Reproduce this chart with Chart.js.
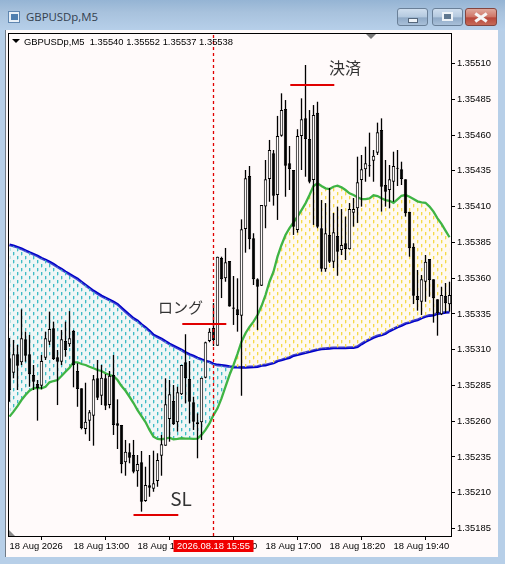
<!DOCTYPE html>
<html><head><meta charset="utf-8">
<style>
html,body{margin:0;padding:0;width:505px;height:564px;overflow:hidden;background:#b7cfe8;}
#titlebar{position:absolute;left:0;top:0;width:505px;height:31px;background:linear-gradient(#95b4d4,#a8c2dd 40%,#b7d0ea);}
#title{position:absolute;left:26px;top:9px;font:11.4px "Open Sans",sans-serif;color:#33404e;}
#icon{position:absolute;left:8px;top:11px;width:12px;height:12px;background:#e8f0f8;border:1px solid #5f86b0;box-sizing:border-box;}
#icon i{position:absolute;left:2px;top:2px;width:7px;height:6px;background:#4f7fb0;}
.btn{position:absolute;top:8px;height:16px;border:1px solid #6a8098;border-radius:3px;background:linear-gradient(#cfdeee,#b4c9df 50%,#8fa9c6 55%,#a9c0d9);box-sizing:content-box;}
#bmin{left:397px;width:29px}#bmax{left:432px;width:29px}
#bclose{left:465px;width:30px;background:linear-gradient(#dfa89c,#cf7566 50%,#b8473a 55%,#c66a58);border-color:#84453e;}
.g{position:absolute;background:#fff;border:1px solid #55677c;box-sizing:border-box;}
#gmin{left:10px;top:9px;width:10px;height:5px;background:#eef3f8}
#gmax{left:9px;top:3px;width:11px;height:9px;background:#5f7890;border-color:#eef3f8;border-width:2px}
.x{position:absolute;left:8px;top:6.5px;width:14px;height:3px;background:#f6f6f6;}
#panel{position:absolute;left:5px;top:30px;width:493px;height:527px;background:#fffafa;border-left:1px solid #6f7a86;box-sizing:border-box;}
canvas{position:absolute;left:0;top:0;}
#head{position:absolute;left:24px;top:36px;font:9.4px "Liberation Sans",sans-serif;color:#000;white-space:pre;}
#tri1{position:absolute;left:12px;top:39px;width:0;height:0;border-left:4px solid transparent;border-right:4px solid transparent;border-top:4px solid #000;}
#tri2{position:absolute;left:366px;top:34px;width:0;height:0;border-left:5px solid transparent;border-right:5px solid transparent;border-top:5px solid #777;}
</style></head><body>
<div id="titlebar"><div id="icon"><i></i></div><div id="title">GBPUSDp,M5</div>
<div class="btn" id="bmin"><div class="g" id="gmin"></div></div>
<div class="btn" id="bmax"><div class="g" id="gmax"></div></div>
<div class="btn" id="bclose"><div class="x" style="transform:rotate(35deg)"></div><div class="x" style="transform:rotate(-35deg)"></div></div>
</div>
<div id="panel"></div>
<canvas id="c" width="505" height="564"></canvas>
<div id="tri1"></div><div id="head">GBPUSDp,M5  1.35540 1.35552 1.35537 1.35538</div><div id="tri2"></div>
<script src="https://cdn.jsdelivr.net/npm/chart.js@4"></script>
<script>
const opens=[1.35304,1.352939,1.353068,1.353012,1.353173,1.353068,1.352923,1.35286,1.352848,1.353044,
1.353156,1.35325,1.353047,1.353016,1.353161,1.353138,1.353231,1.352951,1.35283,1.352546,
1.352604,1.352639,1.3529,1.352778,1.3529,1.352713,1.352923,1.352585,1.352574,1.352313,
1.352383,1.352364,1.35225,1.352313,1.352042,1.352152,1.352128,1.352182,1.352359,1.352429,
1.352616,1.352741,1.352592,1.352788,1.353012,1.352895,1.352732,1.352592,1.352592,1.352904,
1.353161,1.353252,1.353128,1.353741,1.353599,1.35372,1.353395,1.353382,1.353338,1.353944,
1.354314,1.353879,1.353592,1.353547,1.3541,1.354293,1.354473,1.354181,1.354596,1.354782,
1.354403,1.354356,1.353937,1.354594,1.354717,1.354573,1.354286,1.354757,1.353949,1.353662,
1.353902,1.353715,1.353895,1.353797,1.353844,1.353802,1.354058,1.354088,1.354286,1.354361,
1.35439,1.354421,1.354477,1.354636,1.354251,1.354216,1.354274,1.354372,1.354361,1.354291,
1.354064,1.35382,1.353475,1.353435,1.353575,1.353734,1.353592,1.353452,1.353347,1.353477,1.353417];
const highs=[1.353182,1.353168,1.353133,1.353382,1.353226,1.353203,1.352993,1.352888,1.353063,1.353226,
1.353366,1.353296,1.353098,1.353238,1.353296,1.35337,1.353238,1.353005,1.35283,1.352869,
1.352678,1.352923,1.353028,1.352993,1.35293,1.352951,1.353063,1.352753,1.352574,1.352469,
1.352446,1.352469,1.352364,1.352392,1.352282,1.352364,1.352394,1.352376,1.352504,1.3529,
1.352888,1.352853,1.352841,1.352993,1.353208,1.353021,1.352771,1.352655,1.352904,1.353156,
1.35325,1.353426,1.35375,1.35375,1.353811,1.35372,1.353615,1.353599,1.354011,1.354356,
1.354384,1.353914,1.353599,1.354111,1.354426,1.354566,1.354496,1.354734,1.354892,1.354845,
1.354524,1.354356,1.354641,1.354857,1.35509,1.354775,1.35481,1.354833,1.354146,1.354125,
1.35423,1.354055,1.3541,1.354083,1.35403,1.354125,1.35416,1.354449,1.354461,1.354519,
1.354617,1.354496,1.354687,1.354717,1.354426,1.354391,1.354484,1.354496,1.354414,1.354291,
1.354064,1.353844,1.353657,1.353622,1.353762,1.353734,1.353592,1.353452,1.35354,1.353566,1.353575];
const lows=[1.352736,1.3529,1.352818,1.352993,1.353016,1.352841,1.352818,1.352604,1.352823,1.353028,
1.353133,1.353028,1.352713,1.352993,1.353051,1.353121,1.352837,1.352701,1.352543,1.352509,
1.352462,1.352429,1.352748,1.352713,1.352678,1.35269,1.352504,1.352406,1.352236,1.352219,
1.352306,1.352236,1.352142,1.351968,1.352037,1.352072,1.352107,1.352142,1.352219,1.352429,
1.352457,1.352574,1.352527,1.352783,1.352725,1.352585,1.352539,1.352341,1.352469,1.3529,
1.353152,1.353126,1.353128,1.353461,1.353575,1.353401,1.353273,1.353226,1.352778,1.353778,
1.353802,1.353552,1.353238,1.353545,1.353949,1.354134,1.354107,1.354007,1.354589,1.354169,
1.354216,1.353902,1.353918,1.354356,1.354309,1.354263,1.353972,1.353949,1.353645,1.353645,
1.353706,1.353671,1.353617,1.353762,1.353727,1.3538,1.35396,1.353986,1.3541,1.354274,
1.354309,1.354274,1.354461,1.354065,1.3541,1.354088,1.354134,1.354244,1.354251,1.35403,
1.35375,1.353419,1.353373,1.353342,1.353435,1.35347,1.353289,1.353198,1.353342,1.353356,1.353366];
const closes=[1.352818,1.353068,1.352988,1.35318,1.353058,1.352928,1.352876,1.352832,1.353021,1.35318,
1.353245,1.353035,1.353016,1.353173,1.353098,1.35318,1.352993,1.352825,1.35255,1.352597,
1.352662,1.352893,1.352764,1.352904,1.352708,1.352918,1.352574,1.352569,1.352299,1.352387,
1.352345,1.352247,1.352301,1.352037,1.352154,1.352135,1.352166,1.352329,1.352439,1.352718,
1.352788,1.352578,1.352802,1.352993,1.3529,1.352736,1.352597,1.352578,1.352904,1.353152,
1.353226,1.353168,1.35375,1.353592,1.353711,1.353401,1.353387,1.353342,1.353942,1.354298,
1.353872,1.353592,1.35354,1.354111,1.354291,1.354496,1.354176,1.354594,1.354775,1.354386,
1.354363,1.35396,1.354594,1.35471,1.354573,1.354274,1.35474,1.35396,1.353666,1.353914,
1.353715,1.353921,1.353785,1.353832,1.353804,1.354083,1.354083,1.35427,1.354361,1.354403,
1.354382,1.354456,1.354619,1.354239,1.354204,1.354291,1.354384,1.354364,1.354293,1.354053,
1.353809,1.353477,1.353447,1.353592,1.353715,1.353587,1.353459,1.353354,1.353482,1.353424,1.353482];
const slowMA=[1.353832,1.353825,1.353816,1.353805,1.353792,1.353779,1.353767,1.353755,1.353739,1.353727,
1.353713,1.353697,1.353679,1.353662,1.353644,1.353627,1.353611,1.353594,1.353573,1.353552,
1.353531,1.35351,1.353493,1.353475,1.353461,1.353447,1.353433,1.353417,1.353391,1.353366,
1.353342,1.353318,1.353301,1.353276,1.353255,1.353231,1.353203,1.353189,1.353175,1.353157,
1.35314,1.353126,1.353112,1.353098,1.35308,1.353066,1.353056,1.353042,1.353031,1.353021,
1.353014,1.353,1.352993,1.35299,1.352986,1.352982,1.352979,1.352978,1.352976,1.352977,
1.352979,1.35298,1.352982,1.35299,1.352993,1.353,1.353007,1.353021,1.353028,1.353038,
1.353045,1.353059,1.353066,1.353073,1.353079,1.353087,1.353094,1.353101,1.353105,1.353108,
1.35311,1.353112,1.353112,1.353112,1.353113,1.353114,1.353115,1.353121,1.35314,1.353157,
1.353171,1.353185,1.353196,1.353203,1.353213,1.353231,1.353245,1.353259,1.353269,1.353283,
1.35329,1.353301,1.353308,1.353322,1.353332,1.353339,1.353342,1.353353,1.353356,1.353361,1.353363];
const fastMA=[1.352632,1.352667,1.352706,1.352748,1.352783,1.352813,1.35283,1.352834,1.35283,1.352841,
1.352872,1.352881,1.352888,1.352916,1.352946,1.352974,1.353012,1.353012,1.353,1.352993,
1.352981,1.35297,1.352958,1.352951,1.352935,1.352923,1.352916,1.352888,1.352846,1.352813,
1.352771,1.352727,1.352678,1.352636,1.352594,1.352539,1.352492,1.352476,1.352474,1.352479,
1.352485,1.352474,1.352476,1.352481,1.352479,1.352478,1.352476,1.352478,1.352504,1.352539,
1.352585,1.352643,1.35269,1.35276,1.352841,1.352923,1.352993,1.35307,1.353156,1.353215,
1.353259,1.353296,1.353342,1.353405,1.353482,1.353575,1.353645,1.35375,1.353832,1.353902,
1.353949,1.35399,1.35403,1.354076,1.354123,1.354181,1.354244,1.354263,1.354244,1.354228,
1.354223,1.354239,1.354246,1.354235,1.354216,1.354193,1.354181,1.354165,1.354153,1.354153,
1.354158,1.354179,1.354174,1.354158,1.354146,1.354141,1.354127,1.354151,1.354176,1.354181,
1.354169,1.354153,1.354137,1.35413,1.354127,1.3541,1.354065,1.354018,1.353979,1.353932,1.353886];
const priceTicks=[1.35185,1.3521,1.35235,1.3526,1.35285,1.3531,1.35335,1.3536,1.35385,1.3541,1.35435,1.3546,1.35485,1.3551];
const timeTickBars=[0,16,32,48,64,80,96];
const timeTickLabels=["18 Aug 2026","18 Aug 13:00","18 Aug 14:20","18 Aug 15:40","18 Aug 17:00","18 Aug 18:20","18 Aug 19:40"];
const entryBar=51, entryLabel="2026.08.18 15:55";
const longLine={bars:[43.2,54.2],price:1.353279}, stopLine={bars:[31,42.2],price:1.351944}, exitLine={bars:[70.2,81.2],price:1.35495};
const notes=[{text:"ロング",bar:42.75,price:1.353398,size:15},{text:"SL",bar:42.9,price:1.352056,size:19},{text:"決済",bar:83.9,price:1.355069,size:16}];
const yMin=1.3517977,yMax=1.3553136,xMin=-0.375,xMax=110.375;

function tile(tint,dash){
  const t=document.createElement('canvas');t.width=8;t.height=8;
  const g=t.getContext('2d');
  g.fillStyle=tint;g.fillRect(0,0,8,8);
  g.fillStyle=dash;g.fillRect(1,0,1,3);g.fillRect(5,4,1,3);
  g.globalAlpha=.35;g.fillRect(2,0,1,3);g.fillRect(6,4,1,3);g.fillRect(1,3,1,1);g.fillRect(5,7,1,1);
  return g.createPattern(t,'repeat');
}
const ctx=document.getElementById('c').getContext('2d');
const yellow=tile('rgba(255,248,215,.25)','#f5da48');
const teal=tile('rgba(205,240,240,.3)','#3fbcc6');
const idx=opens.map((_,i)=>i);
const seg=o=>o.bars.map(x=>({x,y:o.price}));
const chrome={id:'chrome',
 afterDatasetsDraw(ch){
  const a=ch.chartArea,c=ch.ctx;
  c.save();c.strokeStyle='#000';c.lineWidth=1;
  c.strokeRect(a.left+.5,a.top+.5,a.right-a.left,a.bottom-a.top);
  c.fillStyle='#8a8a8a';c.beginPath();c.moveTo(a.left+1,a.bottom-6);c.lineTo(a.left+7,a.bottom);c.lineTo(a.left+1,a.bottom);c.fill();
  c.fillStyle='#333';c.textAlign='center';c.textBaseline='middle';
  notes.forEach(n=>{c.font=n.size+'px "Noto Sans CJK JP","Noto Sans",sans-serif';
   c.fillText(n.text,ch.scales.x.getPixelForValue(n.bar),ch.scales.y.getPixelForValue(n.price));});
  c.restore();
 },
 afterDraw(ch){
  const c=ch.ctx,x=ch.scales.x.getPixelForValue(entryBar);
  c.save();c.fillStyle='#f00000';c.fillRect(x-40,540,80,12);
  c.fillStyle='#fff';c.font='9.4px "Liberation Sans",sans-serif';c.textAlign='center';c.textBaseline='middle';
  c.fillText(entryLabel,x,546.5);c.restore();
 }};
new Chart(ctx,{
 data:{datasets:[
  {type:'line',label:'slow',order:11,data:idx.map(i=>({x:i,y:slowMA[i]})),borderColor:'#0000c8',borderWidth:2.8,pointRadius:0,tension:0,fill:false},
  {type:'line',label:'fast',order:10,data:idx.map(i=>({x:i,y:fastMA[i]})),borderColor:'#3fb444',borderWidth:2.3,pointRadius:0,tension:0,fill:{target:0,above:yellow,below:teal}},
  {type:'bar',label:'wick',order:6,grouped:false,barPercentage:.33,categoryPercentage:1,inflateAmount:0,data:idx.map(i=>({x:i,y:[lows[i],highs[i]]})),backgroundColor:'#000',borderWidth:0},
  {type:'bar',label:'body',order:5,grouped:false,barPercentage:.85,categoryPercentage:1,inflateAmount:0,borderSkipped:false,data:idx.map(i=>({x:i,y:[Math.min(opens[i],closes[i]),Math.max(opens[i],closes[i])]})),
    backgroundColor:idx.map(i=>closes[i]<opens[i]?'#000':'#fffafa'),borderColor:'#000',borderWidth:1},
  {type:'line',label:'entry',order:2,data:[{x:entryBar,y:yMin},{x:entryBar,y:yMax}],borderColor:'#e00000',borderWidth:1.3,borderDash:[3,3],pointRadius:0},
  {type:'line',label:'long',order:1,data:seg(longLine),borderColor:'#e00000',borderWidth:2,pointRadius:0},
  {type:'line',label:'stop',order:1,data:seg(stopLine),borderColor:'#e00000',borderWidth:2,pointRadius:0},
  {type:'line',label:'exit',order:1,data:seg(exitLine),borderColor:'#e00000',borderWidth:2,pointRadius:0}
 ]},
 options:{responsive:false,animation:false,devicePixelRatio:1,
  layout:{padding:{left:8,top:33,right:0,bottom:0}},
  plugins:{legend:{display:false},tooltip:{enabled:false}},
  scales:{
   x:{type:'linear',position:'bottom',min:xMin,max:xMax,offset:false,
     afterFit(s){s.height=28;},
     afterBuildTicks(s){s.ticks=timeTickBars.map(v=>({value:v}));},
     grid:{drawOnChartArea:false,tickLength:4,tickColor:c=>c.index===0?'rgba(0,0,0,0)':'#000'},border:{display:false},
     ticks:{autoSkip:false,maxRotation:0,align:'start',padding:1,color:'#000',font:{family:'"Liberation Sans"',size:9.4},
       callback:(v,i)=>timeTickLabels[i]}},
   y:{type:'linear',position:'right',min:yMin,max:yMax,
     afterFit(s){s.width=54;},
     afterBuildTicks(s){s.ticks=priceTicks.map(v=>({value:v}));},
     grid:{drawOnChartArea:false,tickLength:4,tickColor:'#000'},border:{display:false},
     ticks:{autoSkip:false,padding:2,color:'#000',font:{family:'"Liberation Sans"',size:9.4},callback:v=>v.toFixed(5)}}
  }},
 plugins:[chrome]
});
</script>
</body></html>
